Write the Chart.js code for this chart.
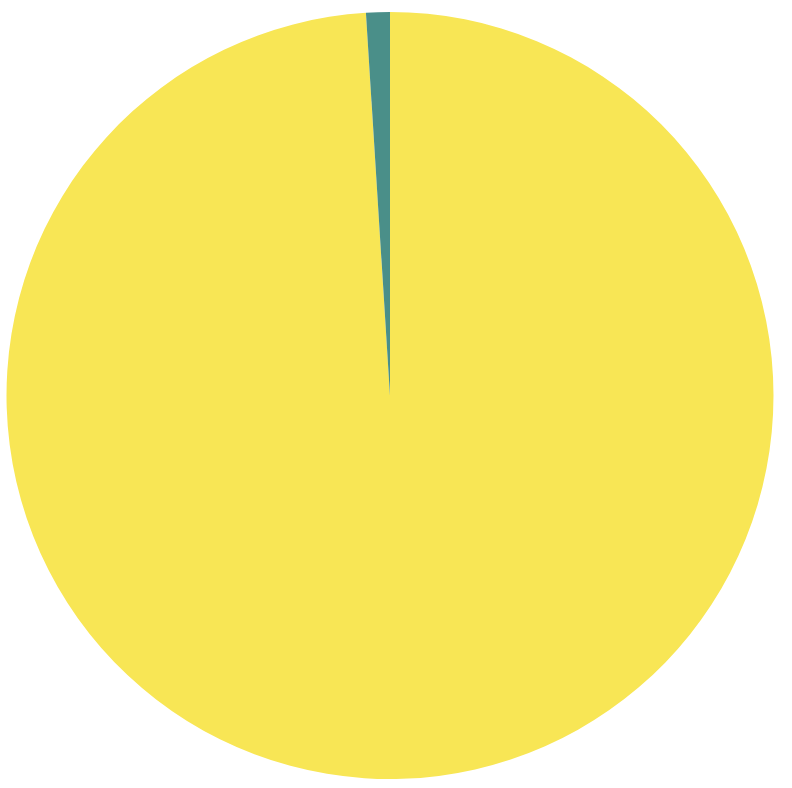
<!DOCTYPE html>
<html>
<head>
<meta charset="utf-8">
<script src="https://cdn.jsdelivr.net/npm/chart.js@4/dist/chart.umd.min.js"></script>
<style>
  html, body { margin: 0; padding: 0; background: #ffffff; }
  #wrap { width: 792px; height: 788px; }
</style>
</head>
<body>
<div id="wrap"><canvas id="pieGraph" width="792" height="788"></canvas></div>
<script>
// datos del pie: una rebanada grande y una muy chica
var labels = ['A', 'B'];
var values = [99, 1];
var colores = ['#f8e655', '#4a8f89'];

var ctx = document.getElementById('pieGraph').getContext('2d');
var myChart = new Chart(ctx, {
  type: 'pie',
  data: {
    labels: labels,
    datasets: [{
      data: values,
      backgroundColor: colores,
      borderWidth: 0
    }]
  },
  options: {
    responsive: false,
    animation: false,
    devicePixelRatio: 1,
    layout: { padding: { left: 6, right: 18, top: 12, bottom: 9 } },
    plugins: {
      legend: { display: false },
      tooltip: { enabled: false }
    }
  }
});
</script>
</body>
</html>
